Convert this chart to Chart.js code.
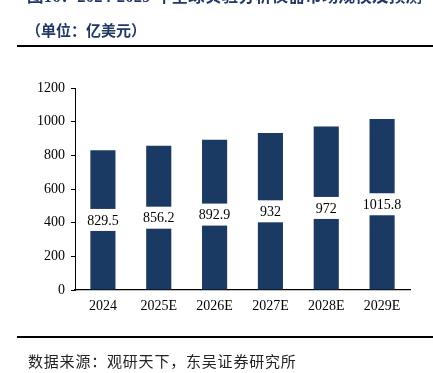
<!DOCTYPE html>
<html><head><meta charset="utf-8">
<script src="https://cdn.jsdelivr.net/npm/chart.js@4/dist/chart.umd.min.js"></script>
<style>
html,body{margin:0;padding:0;background:#fff;width:433px;height:373px;overflow:hidden;}
#wrap{position:absolute;left:0;top:0;width:433px;height:373px;}
.t{position:absolute;white-space:nowrap;font-family:"Liberation Serif","Noto Sans CJK SC",serif;line-height:1;}
</style></head><body>
<div id="wrap"><canvas id="c" width="433" height="373"></canvas></div>
<div class="t" style="left:27px;top:-11px;font-size:16.5px;font-weight:bold;color:#1F3864;letter-spacing:0.2px">图16：2024-2029 年全球实验分析仪器市场规模及预测</div>
<div class="t" style="left:26px;top:24px;font-size:15px;font-weight:bold;color:#1F3864;">（单位：亿美元）</div>
<div style="position:absolute;left:17px;top:45px;width:416px;height:2px;background:#000"></div>
<div style="position:absolute;left:17px;top:336px;width:416px;height:2px;background:#000"></div>
<div class="t" style="left:28px;top:355px;font-size:15px;color:#222;letter-spacing:0.8px">数据来源：观研天下，东吴证券研究所</div>
<script>
const categories = ['2024','2025E','2026E','2027E','2028E','2029E'];
const marketSize = [829.5, 856.2, 892.9, 932, 972, 1015.8];
const valueLabels = ['829.5','856.2','892.9','932','972','1015.8'];
const yTicks = [0,200,400,600,800,1000,1200];

const midLabels = {
  id:'midLabels',
  afterDatasetsDraw(chart){
    const ctx = chart.ctx;
    const meta = chart.getDatasetMeta(0);
    ctx.save();
    ctx.font = '14px "Liberation Serif"';
    ctx.textAlign = 'center';
    ctx.textBaseline = 'middle';
    meta.data.forEach((bar,i)=>{
      const y = (bar.y + bar.base)/2;
      const txt = valueLabels[i];
      const w = ctx.measureText(txt).width + 8;
      ctx.fillStyle = '#fff';
      ctx.fillRect(bar.x - w/2, y - 11, w, 22);
      ctx.fillStyle = '#000';
      ctx.fillText(txt, bar.x, y + 1);
    });
    ctx.restore();
  }
};

new Chart(document.getElementById('c'), {
  type:'bar',
  data:{
    labels: categories,
    datasets:[{
      data: marketSize,
      backgroundColor:'#1B3A63',
      borderWidth:0,
      barPercentage:0.45,
      categoryPercentage:1
    }]
  },
  options:{
    responsive:false,
    animation:false,
    devicePixelRatio:1,
    layout:{padding:{left:0,right:23,top:88,bottom:0}},
    plugins:{legend:{display:false},tooltip:{enabled:false},title:{display:false}},
    scales:{
      y:{
        min:0,max:1200,
        afterBuildTicks(s){ s.ticks = yTicks.map(v=>({value:v})); },
        afterFit(s){ s.width = 75; },
        ticks:{color:'#000',font:{family:'"Liberation Serif"',size:14},padding:6,callback:(v)=>String(v)},
        grid:{display:true,drawOnChartArea:false,drawTicks:true,tickLength:4,color:'#000'},
        border:{display:true,color:'#000',width:1}
      },
      x:{
        afterFit(s){ s.height = 83; },
        ticks:{color:'#000',font:{family:'"Liberation Serif"',size:14},padding:8},
        grid:{display:true,drawOnChartArea:false,drawTicks:false,color:'#000'},
        border:{display:true,color:'#000',width:1.3}
      }
    }
  },
  plugins:[midLabels]
});
</script>
</body></html>
